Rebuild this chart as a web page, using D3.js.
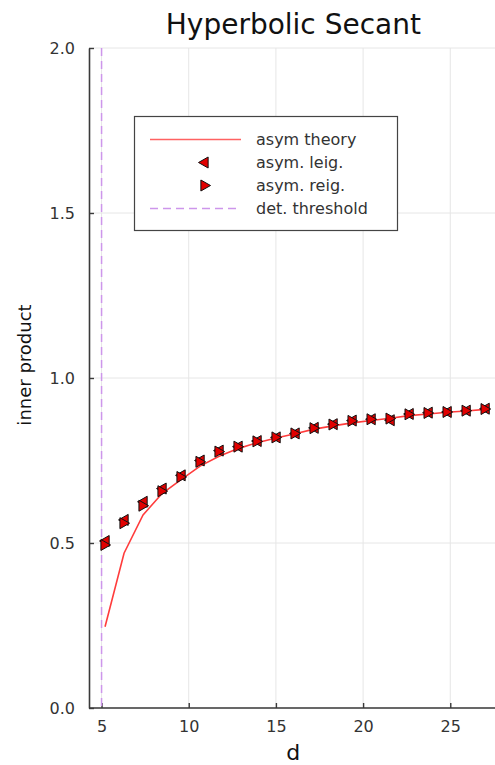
<!DOCTYPE html>
<html>
<head>
<meta charset="utf-8">
<script src="https://cdn.jsdelivr.net/npm/d3@7"></script>
<style>
  html, body { margin: 0; padding: 0; background: #fff; }
  svg { display: block; font-family: "DejaVu Sans", sans-serif; }
</style>
</head>
<body>
<svg id="chart" width="495" height="765"></svg>
<script>
// Sample sizes d
const dValues = [5.2, 6.29, 7.38, 8.47, 9.56, 10.65, 11.74, 12.83, 13.92, 15.01, 16.1,
                 17.19, 18.28, 19.37, 20.46, 21.55, 22.64, 23.73, 24.82, 25.91, 27.0];
// Asymptotic theory curve
const theory = [0.246, 0.469, 0.585, 0.650, 0.692, 0.733, 0.763, 0.786, 0.804, 0.818, 0.831,
                0.845, 0.855, 0.864, 0.871, 0.878, 0.886, 0.891, 0.896, 0.900, 0.905];
// Left eigenvector inner products
const leig = [0.506, 0.570, 0.625, 0.665, 0.705, 0.750, 0.780, 0.792, 0.809, 0.820, 0.832,
              0.849, 0.860, 0.871, 0.875, 0.872, 0.891, 0.895, 0.897, 0.901, 0.907];
// Right eigenvector inner products
const reig = [0.494, 0.560, 0.613, 0.657, 0.700, 0.746, 0.777, 0.792, 0.808, 0.820, 0.832,
              0.848, 0.859, 0.870, 0.875, 0.877, 0.890, 0.894, 0.897, 0.901, 0.906];
// Detection threshold
const threshold = 5;
const xTicks = [5, 10, 15, 20, 25];
const yTicks = [0.0, 0.5, 1.0, 1.5, 2.0];
const legendLabels = ["asym theory", "asym. leig.", "asym. reig.", "det. threshold"];

(function draw() {
  const svg = d3.select("#chart");
  const pLeft = 89, pRight = 497.7, pTop = 48, pBottom = 708;

  const x = d3.scaleLinear().domain([4.28, 27.72]).range([pLeft, pRight]);
  const y = d3.scaleLinear().domain([0, 2]).range([pBottom, pTop]);

  const red = "rgb(255,60,60)";
  const purple = "rgb(205,150,235)";
  const axisColor = "#3a3a3a";
  const textColor = "#333";

  // grid
  const grid = svg.append("g");
  grid.selectAll("line.gx").data(xTicks).join("line")
    .attr("x1", d => x(d)).attr("x2", d => x(d))
    .attr("y1", pTop).attr("y2", pBottom)
    .attr("stroke", "#e6e6e6").attr("stroke-width", 1);
  grid.selectAll("line.gy").data(yTicks).join("line")
    .attr("x1", pLeft).attr("x2", pRight)
    .attr("y1", d => y(d)).attr("y2", d => y(d))
    .attr("stroke", "#e6e6e6").attr("stroke-width", 1);

  // axes with inward ticks
  const xAxis = d3.axisBottom(x).tickValues(xTicks).tickFormat(d3.format("d"))
    .tickSizeInner(-5).tickSizeOuter(0).tickPadding(13);
  const yAxis = d3.axisLeft(y).tickValues(yTicks).tickFormat(d3.format(".1f"))
    .tickSizeInner(-5).tickSizeOuter(0).tickPadding(14);

  const gx = svg.append("g").attr("transform", `translate(0,${pBottom})`).call(xAxis);
  const gy = svg.append("g").attr("transform", `translate(${pLeft},0)`).call(yAxis);
  [gx, gy].forEach(g => {
    g.select(".domain").attr("stroke", axisColor).attr("stroke-width", 1.6);
    g.selectAll(".tick line").attr("stroke", axisColor).attr("stroke-width", 1.4);
    g.selectAll(".tick text").attr("fill", textColor)
      .attr("font-family", "DejaVu Sans, sans-serif").attr("font-size", 16);
  });
  gx.select(".domain").attr("d", `M${pLeft},0H495`);

  // threshold line
  svg.append("line")
    .attr("x1", x(threshold)).attr("x2", x(threshold))
    .attr("y1", pTop).attr("y2", pBottom)
    .attr("stroke", purple).attr("stroke-width", 1.5)
    .attr("stroke-dasharray", "8,5");

  // theory curve
  const line = d3.line().x((d, i) => x(dValues[i])).y(d => y(d));
  svg.append("path").datum(theory)
    .attr("d", line).attr("fill", "none")
    .attr("stroke", red).attr("stroke-width", 1.6);

  // triangle markers
  const tri = (dir, r) => dir < 0
    ? `M${-r},0L${r * 0.75},${-r}L${r * 0.75},${r}Z`
    : `M${r},0L${-r * 0.75},${-r}L${-r * 0.75},${r}Z`;
  const markerFill = "rgb(225,0,0)";
  const pts = svg.append("g");
  pts.selectAll("path.l").data(leig).join("path")
    .attr("class", "l")
    .attr("transform", (d, i) => `translate(${x(dValues[i])},${y(d)})`)
    .attr("d", tri(-1, 5.5)).attr("fill", markerFill)
    .attr("stroke", "#111").attr("stroke-width", 1);
  pts.selectAll("path.r").data(reig).join("path")
    .attr("class", "r")
    .attr("transform", (d, i) => `translate(${x(dValues[i])},${y(d)})`)
    .attr("d", tri(1, 5.5)).attr("fill", markerFill)
    .attr("stroke", "#111").attr("stroke-width", 1);

  // title and axis labels
  const cx = (pLeft + pRight) / 2;
  svg.append("text").attr("x", cx).attr("y", 34).attr("text-anchor", "middle")
    .attr("font-size", 28).attr("fill", "#111").text("Hyperbolic Secant");
  svg.append("text").attr("x", cx).attr("y", 760).attr("text-anchor", "middle")
    .attr("font-size", 22).attr("fill", "#111").text("d");
  svg.append("text").attr("transform", "translate(31,365) rotate(-90)")
    .attr("text-anchor", "middle").attr("font-size", 18).attr("fill", "#111")
    .text("inner product");

  // legend
  const lg = svg.append("g");
  lg.append("rect").attr("x", 134.5).attr("y", 116.5).attr("width", 263).attr("height", 114)
    .attr("fill", "#fff").attr("stroke", "#444").attr("stroke-width", 1.2);
  const rows = [139.5, 162.5, 185.5, 208.5];
  lg.append("line").attr("x1", 150).attr("x2", 241).attr("y1", rows[0]).attr("y2", rows[0])
    .attr("stroke", red).attr("stroke-width", 1.6).attr("opacity", 0.8);
  lg.append("path").attr("transform", `translate(204,${rows[1]})`).attr("d", tri(-1, 5.5))
    .attr("fill", markerFill).attr("stroke", "#111").attr("stroke-width", 1);
  lg.append("path").attr("transform", `translate(205,${rows[2]})`).attr("d", tri(1, 5.5))
    .attr("fill", markerFill).attr("stroke", "#111").attr("stroke-width", 1);
  lg.append("line").attr("x1", 150).attr("x2", 241).attr("y1", rows[3]).attr("y2", rows[3])
    .attr("stroke", purple).attr("stroke-width", 1.5).attr("stroke-dasharray", "8,5");
  lg.selectAll("text.lt").data(legendLabels).join("text")
    .attr("class", "lt")
    .attr("x", 256).attr("y", (d, i) => rows[i]).attr("dy", "0.35em")
    .attr("font-size", 16).attr("fill", textColor).text(d => d);
})();
</script>
</body>
</html>
